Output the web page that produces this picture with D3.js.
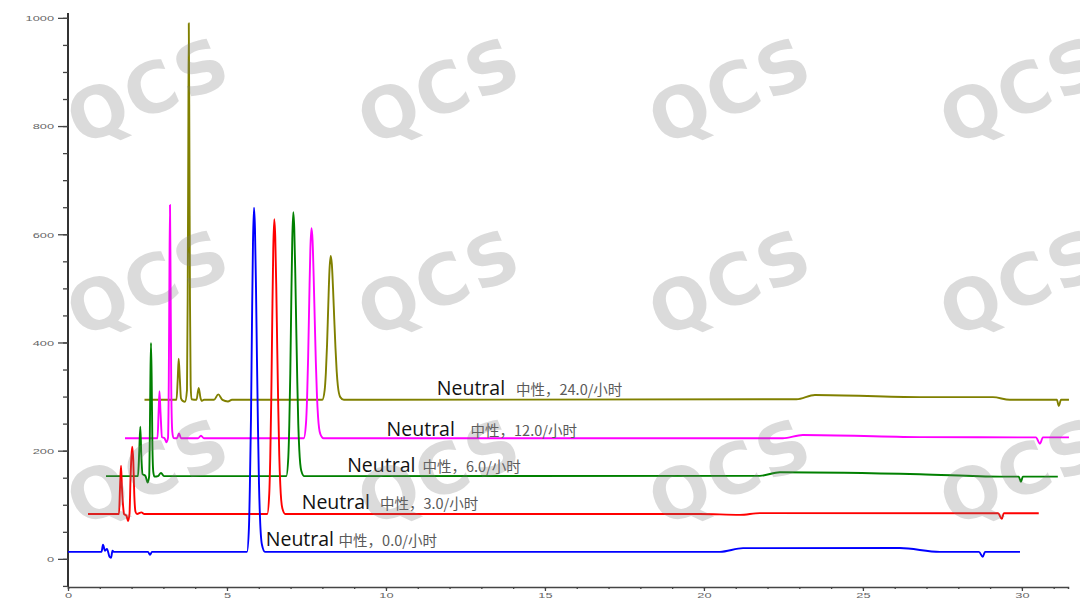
<!DOCTYPE html>
<html><head><meta charset="utf-8">
<script src="https://cdn.jsdelivr.net/npm/d3@7"></script>
<style>html,body{margin:0;padding:0;background:#fff;}svg{display:block;}</style>
</head><body>
<script>
// ---------- data (plotted time in min, signal) ----------
const xTicks = [0, 5, 10, 15, 20, 25, 30];
const yTicks = [0, 200, 400, 600, 800, 1000];
const seriesNames = ["0.0", "3.0", "6.0", "12.0", "24.0"];
const seriesColors = ["#0000ff", "#ff0000", "#008000", "#ff00ff", "#808000"];

const trace0h = [
  [0,13],[1.01,13],[1.053,13],[1.101,26],[1.164,15],[1.226,18.5],[1.305,4],[1.352,2],[1.399,15],[1.447,13],
  [2.516,13],[2.579,7.4],[2.642,13],
  [5.63,13],[5.69,57],[5.72,134],[5.755,261],[5.786,433],[5.818,585],[5.849,649],[5.88,611],[5.912,503],
  [5.943,369],[5.975,242],[6.006,140],[6.038,77],[6.10,26],[6.195,13],
  [20.50,13],[21.23,19.8],[26.16,20],[27.42,13],[28.65,13],[28.77,3.7],[28.84,13],[29.94,13]
];
const trace3h = [
  [0.629,83],[1.604,83],[1.635,130],[1.667,172],[1.698,130],[1.745,90],[1.761,83],[1.840,79.5],[1.887,70],
  [1.934,83],[1.965,146],[1.997,192],[2.022,207.5],[2.053,182],[2.085,118],[2.123,87],[2.170,83],
  [2.31,86],[2.40,83],
  [6.267,83],[6.330,121],[6.361,187],[6.393,296],[6.424,443],[6.456,574],[6.487,628],[6.518,595],[6.550,503],
  [6.581,388],[6.613,279],[6.644,192],[6.676,138],[6.739,94],[6.833,83],
  [19.87,83],[21.13,81.3],[21.76,84.5],[29.25,84.4],[29.37,74],[29.43,84.4],[30.53,84.4]
];
const trace6h = [
  [1.195,153],[2.201,153],[2.242,201],[2.274,244.5],[2.305,192],[2.343,157],[2.437,153],[2.506,141],[2.553,153],
  [2.572,220],[2.591,331],[2.610,399],[2.632,331],[2.654,211],[2.682,161],[2.720,152],
  [2.830,153],[2.925,159],[3.019,153],
  [6.865,153],[6.928,187],[6.959,246],[6.991,343],[7.022,475],[7.054,592],[7.085,641],[7.116,611],[7.148,528],
  [7.179,426],[7.211,328],[7.242,250],[7.274,202],[7.337,163],[7.431,153],
  [21.76,153.5],[22.39,160.2],[26.79,156.5],[29.31,152],[29.90,152],[29.97,142.3],[30.03,152],[31.13,152]
];
const trace12h = [
  [1.792,223],[2.814,223],[2.852,275],[2.877,310],[2.909,272],[2.956,225],[3.035,223],[3.097,215.5],
  [3.145,223.5],[3.170,331],[3.189,515],[3.208,654],[3.226,515],[3.248,312],[3.280,235],[3.318,223.5],
  [3.428,223],[3.491,232],[3.553,223],[4.088,223],[4.182,227.5],[4.277,223],
  [7.415,223],[7.484,250],[7.519,297],[7.553,374],[7.588,479],[7.622,572],[7.657,611],[7.692,588],[7.726,522],
  [7.761,440],[7.795,363],[7.830,301],[7.865,262],[7.934,231],[8.038,223],
  [22.48,223],[23.11,229],[26.79,225],[30.44,224.5],[30.57,213],[30.66,224.5],[31.48,224.5]
];
const trace24h = [
  [2.406,294],[3.412,294],[3.450,331],[3.481,370],[3.516,334],[3.553,297],[3.607,292],[3.679,290.5],
  [3.742,312],[3.764,479],[3.783,756],[3.799,990],[3.818,756],[3.836,479],[3.858,321],[3.884,295],
  [4.041,294],[4.110,316],[4.167,297.5],[4.214,292],[4.277,294],
  [4.591,294],[4.726,304],[4.858,294],[5.031,291],[5.157,294],
  [7.997,294],[8.072,312],[8.110,344],[8.148,397],[8.186,469],[8.223,533],[8.261,560],[8.299,544],[8.336,499],
  [8.374,443],[8.412,390],[8.450,347],[8.487,320],[8.563,299],[8.676,294],
  [22.91,295],[23.49,303],[26.79,299],[29.09,299],[29.62,294],[31.10,294],[31.16,282.7],[31.23,294],[31.48,294]
];
const traces = [trace0h, trace3h, trace6h, trace12h, trace24h];
// label anchors (time of label start, signal level of label baseline)
const labelStart = [6.22, 7.35, 8.78, 10.02, 11.60];
const labelCnStart = [8.51, 9.81, 11.15, 12.66, 14.09];
const labelLevel = [24, 92, 160, 228, 303];

// ---------- layout ----------
const W = 1080, H = 610;
const svg = d3.select("body").append("svg").attr("width", W).attr("height", H);
const x = d3.scaleLinear().domain([0, 31.45]).range([68, 1068]);
const y = d3.scaleLinear().domain([-52, 1009]).range([587, 13]);

// axes
const tickFont = "'Liberation Sans', Arial, sans-serif";
const gy = svg.append("g").attr("transform", `translate(${x(0)},0)`);
gy.call(d3.axisLeft(y).tickValues(d3.range(-50, 1001, 50)).tickSize(5).tickFormat(""));
gy.append("g").call(d3.axisLeft(y).tickValues(yTicks).tickSize(10).tickFormat(d3.format("d")));
gy.selectAll("path.domain").attr("stroke", "#333").attr("stroke-width", 2).attr("d", `M0,${y(-52)}V${y(1009)}`);
gy.selectAll(".tick line").attr("stroke", "#444").attr("stroke-width", 1.3);
gy.selectAll("path.domain").filter((d,i,n)=>n[i].parentNode!==gy.node()).remove();
gy.selectAll("text").attr("x", null).attr("dx", null).attr("dy", "0.35em")
  .attr("transform", "translate(-14,0) scale(1.6,1)")
  .attr("font-size", 8).attr("font-family", tickFont).attr("fill", "#666").attr("text-anchor", "end");

const gx = svg.append("g").attr("transform", `translate(0,${y(-52)})`);
gx.call(d3.axisBottom(x).tickValues(d3.range(0, 32, 1)).tickSize(2).tickFormat(""));
gx.append("g").call(d3.axisBottom(x).tickValues(xTicks).tickSize(4).tickFormat(d3.format("d")));
gx.selectAll("path.domain").attr("stroke", "#444").attr("stroke-width", 1.5);
gx.selectAll("path.domain").filter((d,i,n)=>n[i].parentNode!==gx.node()).remove();
gx.selectAll(".tick line").attr("stroke", "#444").attr("stroke-width", 1.3);
gx.selectAll("text").attr("y", null).attr("dy", null)
  .attr("transform", "translate(0,11) scale(1.6,1)")
  .attr("font-size", 8).attr("font-family", tickFont).attr("fill", "#666");

// traces
const line = d3.line().x(d => x(d[0])).y(d => y(d[1])).curve(d3.curveMonotoneX);
const order = [4, 3, 2, 1, 0];
order.forEach(i => {
  svg.append("path").datum(traces[i]).attr("d", line)
    .attr("fill", "none").attr("stroke", seriesColors[i]).attr("stroke-width", 1.9)
    .attr("stroke-linejoin", "round");
});

// labels
seriesNames.forEach((n, i) => {
  svg.append("text").attr("x", x(labelStart[i])).attr("y", y(labelLevel[i]))
    .attr("font-family", "'Open Sans', 'Noto Sans', sans-serif").attr("font-size", 19.5)
    .attr("fill", "#111").text("Neutral");
  svg.append("text").attr("x", x(labelCnStart[i])).attr("y", y(labelLevel[i]))
    .attr("font-family", "'Noto Sans CJK SC', sans-serif").attr("font-size", 14.5)
    .attr("fill", "#5a5a5a").text(`中性，${n}/小时`);
});

// watermark (the right-hand column runs off the edge, as in the reference)
const wmCols = [148, 439, 730, 1021], wmRows = [90, 282, 471];
const wm = svg.append("g").attr("pointer-events", "none");
wmRows.forEach(cy => wmCols.forEach(cx => {
  wm.append("text").attr("transform", `translate(${cx},${cy}) rotate(-23)`)
    .attr("text-anchor", "middle").attr("dy", "0.36em")
    .attr("font-family", "'DejaVu Sans', sans-serif").attr("font-weight", "bold")
    .attr("font-size", 70).attr("letter-spacing", 2)
    .attr("fill", "#7a7a7a").attr("fill-opacity", 0.27).text("QCS");
}));
</script>
</body></html>
